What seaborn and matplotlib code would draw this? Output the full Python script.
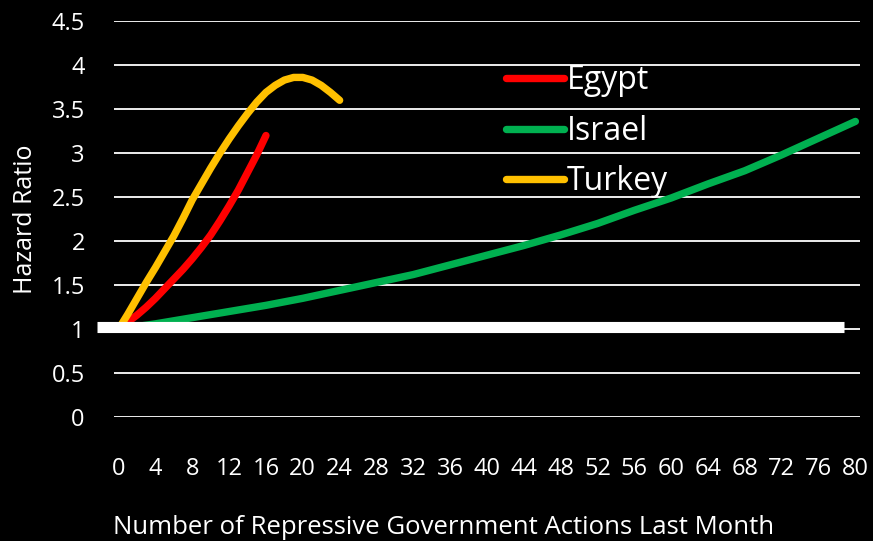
import numpy as np
import pandas as pd
import seaborn as sns
import matplotlib.pyplot as plt

# valores (hazard ratio por número de ações repressivas)
egypt_x = list(range(0, 17))
egypt_y = [1.0, 1.08, 1.16, 1.25, 1.35, 1.46, 1.57, 1.68, 1.80, 1.93, 2.07,
           2.23, 2.40, 2.58, 2.78, 2.98, 3.20]

turkey_x = list(range(0, 25))
turkey_y = [1.0, 1.17, 1.35, 1.53, 1.70, 1.88, 2.06, 2.26, 2.47, 2.65, 2.83,
            3.00, 3.16, 3.31, 3.45, 3.58, 3.69, 3.77, 3.83, 3.86, 3.86, 3.83,
            3.77, 3.69, 3.60]

israel_x = list(range(0, 81, 4))
israel_y = [1.0, 1.06, 1.13, 1.20, 1.27, 1.35, 1.44, 1.53, 1.62, 1.73, 1.84,
            1.95, 2.07, 2.20, 2.35, 2.49, 2.65, 2.80, 2.98, 3.17, 3.36]

# linha de referência branca (HR = 1)
baseline_x = [-2.3, 78.8]
baseline_y = [1.02, 1.02]

paises = ["Egypt", "Israel", "Turkey"]
cores = {"Egypt": "#FF0000", "Israel": "#00B050", "Turkey": "#FFC000"}
x_ticks = list(range(0, 81, 4))
y_ticks = [0, 0.5, 1, 1.5, 2, 2.5, 3, 3.5, 4, 4.5]

dados = pd.concat([
    pd.DataFrame({"x": egypt_x, "hr": egypt_y, "pais": "Egypt"}),
    pd.DataFrame({"x": israel_x, "hr": israel_y, "pais": "Israel"}),
    pd.DataFrame({"x": turkey_x, "hr": turkey_y, "pais": "Turkey"}),
])

sns.set_style("dark")
plt.rcParams['font.family'] = ['Open Sans', 'DejaVu Sans']

fig = plt.figure(figsize=(8.73, 5.41), dpi=100, facecolor="black")
graf = fig.add_axes([0.1306, 0.229, 0.8545, 0.732])
graf.set_facecolor("black")

sns.lineplot(data=dados, x="x", y="hr", hue="pais", hue_order=paises,
             palette=cores, linewidth=5.3, ax=graf, sort=False,
             solid_capstyle="round", zorder=3)
graf.plot(baseline_x, baseline_y, color="white", linewidth=8,
          solid_capstyle="butt", zorder=5, clip_on=False)

graf.set_xlim(-0.5, 80.5)
graf.set_ylim(0, 4.5)
graf.set_xticks(x_ticks)
graf.set_xticklabels([str(v) for v in x_ticks])
graf.set_yticks(y_ticks)
graf.set_yticklabels([f"{v:g}" for v in y_ticks])
graf.tick_params(axis="both", colors="white", labelsize=17, length=0)
graf.tick_params(axis="x", pad=29)
graf.tick_params(axis="y", pad=21)
graf.grid(axis="y", color="white", linewidth=1.3)
graf.grid(axis="x", visible=False)
for s in graf.spines.values():
    s.set_visible(False)

# eixos
graf.set_xlabel("Number of Repressive Government Actions Last Month",
                color="white", fontsize=18.5)
graf.xaxis.set_label_coords(0.442, -0.28)
graf.xaxis.label.set_va("center")
graf.set_ylabel("Hazard Ratio", color="white", fontsize=18)
graf.yaxis.set_label_coords(-0.119, 0.5)
graf.yaxis.label.set_va("center")

handles, labels = graf.get_legend_handles_labels()
leg = graf.legend(handles, labels, loc="upper left",
                  bbox_to_anchor=(0.565, 0.905), bbox_transform=fig.transFigure,
                  frameon=False, fontsize=23, handlelength=1.8,
                  handletextpad=0.1, labelspacing=0.55, borderaxespad=0)
for t in leg.get_texts():
    t.set_color("white")

fig.savefig("out.png", dpi=100, facecolor="black")
plt.close(fig)
